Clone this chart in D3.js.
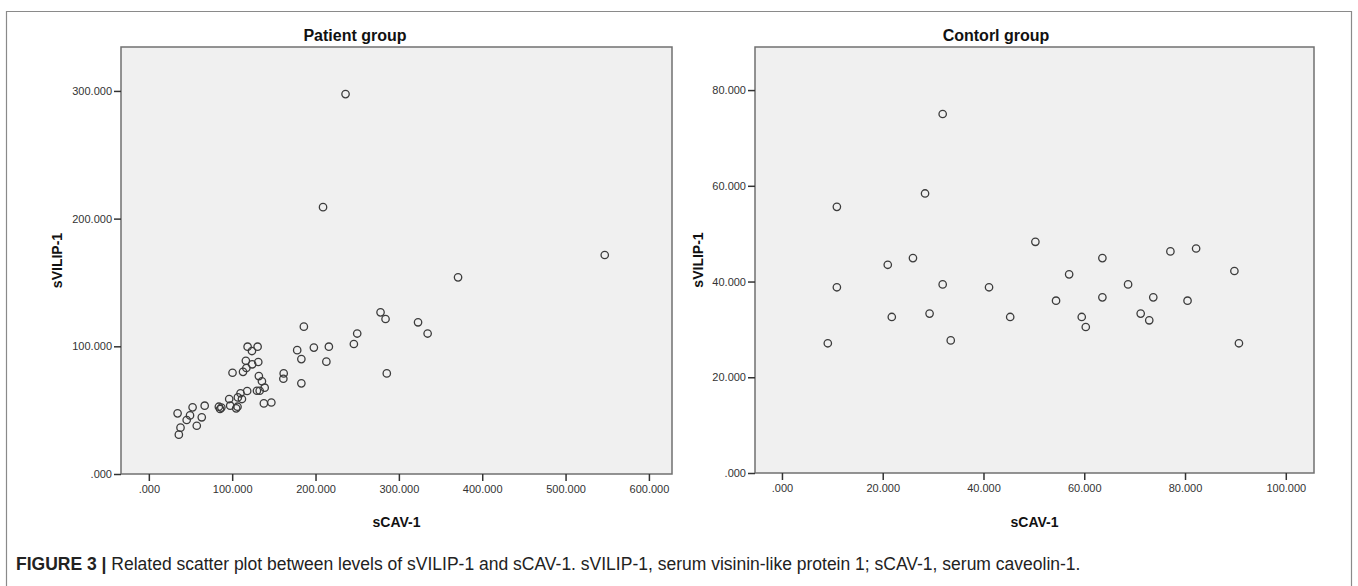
<!DOCTYPE html>
<html>
<head>
<meta charset="utf-8">
<script src="https://cdn.jsdelivr.net/npm/d3@7"></script>
<style>
  body { margin: 0; background: #fff; }
  svg { display: block; font-family: Arial, "Liberation Sans", sans-serif; }
  .tick text { font-size: 11px; fill: #333; }
  .tick line { stroke: #333; stroke-width: 1.5; }
  .panel-title { font-size: 16px; font-weight: bold; fill: #111; }
  .axis-title { font-size: 14px; font-weight: bold; fill: #111; }
</style>
</head>
<body>
<div id="chart"></div>
<script>
// patient group: [sCAV-1, sVILIP-1]
const patientPoints = [
  [236, 297.5], [209, 209], [547, 171.5], [371, 154], [278, 126.6], [284, 121.4],
  [323, 118.8], [334.5, 110], [186, 115.4], [250, 110], [246, 101.8],
  [118.5, 99.7], [130.5, 99.7], [123.7, 96.3], [178, 97], [198, 99], [216, 99.7],
  [116.4, 88.7], [131.3, 87.7], [183, 90], [213, 88], [124, 85.9], [117, 83],
  [113, 80], [100.4, 79.3], [132, 76.7], [161.8, 78.8], [161.4, 74.6], [285.5, 78.8],
  [183, 71], [135.7, 72.6], [139, 67.6], [133, 65.2], [129.7, 65.2], [118, 65],
  [110, 63.2], [111.7, 58.7], [106.8, 60], [96.4, 58.7], [138, 55.3], [147, 56],
  [84, 52.7], [85.5, 50.9], [87, 52], [97.6, 53.5], [104.8, 51.4], [106.4, 52.7],
  [67, 53.5], [52.5, 52.2], [34.5, 47.5], [49.4, 45.9], [45.4, 42.3], [63.5, 44.4],
  [57.5, 37.8], [38, 36.3], [36, 30.8]
];

// control group: [sCAV-1, sVILIP-1]
const controlPoints = [
  [31.9, 75.0], [10.9, 55.6], [28.4, 58.4], [50.3, 48.3], [21.0, 43.5], [26.0, 44.9],
  [63.6, 44.9], [57.0, 41.5], [77.1, 46.3], [82.2, 46.9], [89.8, 42.2], [10.9, 38.8],
  [31.9, 39.4], [41.1, 38.8], [68.7, 39.4], [63.6, 36.7], [73.7, 36.7], [54.4, 36.0],
  [80.5, 36.0], [21.8, 32.6], [29.3, 33.3], [45.3, 32.6], [59.5, 32.6], [60.3, 30.5],
  [71.2, 33.3], [72.9, 31.9], [33.5, 27.7], [9.1, 27.1], [90.7, 27.1]
];

const patientXTicks = [0, 100, 200, 300, 400, 500, 600];
const patientYTicks = [0, 100, 200, 300];
const controlXTicks = [0, 20, 40, 60, 80, 100];
const controlYTicks = [0, 20, 40, 60, 80];

const panelTitles = ['Patient group', 'Contorl group'];
const xTitle = 'sCAV-1';
const yTitle = 'sVILIP-1';
const captionBold = 'FIGURE 3 |';
const captionText = ' Related scatter plot between levels of sVILIP-1 and sCAV-1. sVILIP-1, serum visinin-like protein 1; sCAV-1, serum caveolin-1.';

const W = 1358, H = 586;

const svg = d3.select('#chart').append('svg')
    .attr('width', W)
    .attr('height', H);

// outer frame (runs past the bottom of the picture)
svg.append('path')
    .attr('d', `M6.5,${H}V11.5H1351.5V${H}`)
    .attr('fill', 'none')
    .attr('stroke', '#8a8a8a')
    .attr('stroke-width', 1.2);

const fmt = d => d === 0 ? '.000' : d3.format('.3f')(d);

function drawPanel(cfg) {
  const x = d3.scaleLinear().domain(cfg.xDomain).range([cfg.left, cfg.right]);
  const y = d3.scaleLinear().domain(cfg.yDomain).range([cfg.bottom, cfg.top]);

  const g = svg.append('g');

  g.append('rect')
      .attr('x', cfg.left)
      .attr('y', cfg.top)
      .attr('width', cfg.right - cfg.left)
      .attr('height', cfg.bottom - cfg.top)
      .attr('fill', '#f0f0f0')
      .attr('stroke', '#707070')
      .attr('stroke-width', 1.5);

  const xAxis = g.append('g')
      .attr('transform', `translate(0,${cfg.bottom})`)
      .call(d3.axisBottom(x).tickValues(cfg.xTicks).tickFormat(fmt).tickSize(7).tickPadding(4));
  xAxis.select('.domain').remove();

  const yAxis = g.append('g')
      .attr('transform', `translate(${cfg.left},0)`)
      .call(d3.axisLeft(y).tickValues(cfg.yTicks).tickFormat(fmt).tickSize(7).tickPadding(2));
  yAxis.select('.domain').remove();

  g.selectAll('.pt')
      .data(cfg.points)
    .join('circle')
      .attr('class', 'pt')
      .attr('cx', d => x(d[0]))
      .attr('cy', d => y(d[1]))
      .attr('r', 3.7)
      .attr('fill', 'none')
      .attr('stroke', '#3c3c3c')
      .attr('stroke-width', 1.3);

  g.append('text')
      .attr('class', 'panel-title')
      .attr('x', cfg.titleX)
      .attr('y', 35)
      .attr('dy', '0.35em')
      .attr('text-anchor', 'middle')
      .text(cfg.title);

  g.append('text')
      .attr('class', 'axis-title')
      .attr('x', (cfg.left + cfg.right) / 2)
      .attr('y', 522)
      .attr('dy', '0.35em')
      .attr('text-anchor', 'middle')
      .text(xTitle);

  g.append('text')
      .attr('class', 'axis-title')
      .attr('transform', `translate(${cfg.yTitleX},${(cfg.top + cfg.bottom) / 2}) rotate(-90)`)
      .attr('dy', '0.35em')
      .attr('text-anchor', 'middle')
      .text(yTitle);
}

drawPanel({
  left: 121, right: 672, top: 47, bottom: 474,
  xDomain: [-33.4, 627.7], yDomain: [0, 334.4],
  xTicks: patientXTicks, yTicks: patientYTicks,
  points: patientPoints, title: panelTitles[0], titleX: 355, yTitleX: 57
});

drawPanel({
  left: 755, right: 1314, top: 47, bottom: 473,
  xDomain: [-5.35, 105.6], yDomain: [0, 89.0],
  xTicks: controlXTicks, yTicks: controlYTicks,
  points: controlPoints, title: panelTitles[1], titleX: 996, yTitleX: 698
});

// caption
const cap = svg.append('text')
    .attr('x', 16)
    .attr('y', 564)
    .attr('dy', '0.35em')
    .style('font-size', '17.5px')
    .style('fill', '#222');
cap.append('tspan').style('font-weight', 'bold').text(captionBold);
cap.append('tspan').text(captionText);
</script>
</body>
</html>
